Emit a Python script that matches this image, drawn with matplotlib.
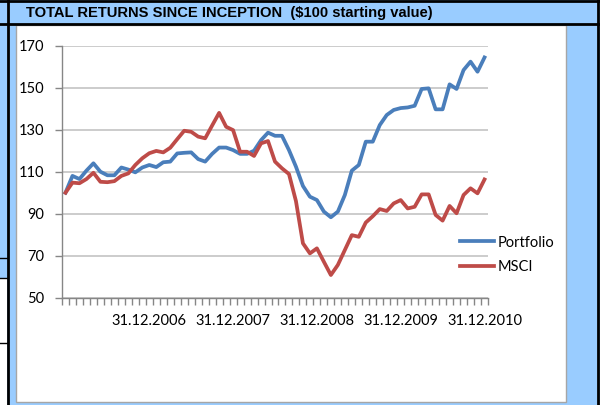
import matplotlib.pyplot as plt
from matplotlib.patches import Rectangle
from matplotlib.lines import Line2D
import numpy as np

# monthly values, 31.12.2005 .. 31.12.2010 (61 points)
portfolio = [100, 108, 106.5, 110.5, 114, 110, 108.3, 108.3, 112, 111,
             109.7, 112, 113.2, 112.2, 114.5, 114.8, 118.7, 119, 119.2, 116,
             114.8, 118.5, 121.5, 121.5, 120.3, 118.5, 118.5, 120, 125, 128.6,
             127.1, 127.1, 120.3, 112.4, 103.2, 98.1, 96.5, 91, 88.3, 91,
             98.9, 110.5, 113.2, 124.3, 124.3, 132.2, 137, 139.4, 140.3, 140.6,
             141.4, 149.4, 149.7, 139.7, 139.7, 151.6, 149.4, 158.4, 162.4, 157.6,
             164.4]
msci = [100, 104.8, 104.5, 106.5, 109.5, 105.2, 105, 105.5, 108, 109.2,
        113.2, 116.4, 118.8, 119.9, 119.2, 121.4, 125.5, 129.5, 129, 126.7,
        125.9, 132, 138, 131.4, 129.8, 119.5, 119.5, 117.5, 123.5, 124.6,
        114.8, 111.6, 108.9, 96, 75.9, 71.1, 73.5, 67.1, 60.8, 65.6,
        72.7, 79.8, 79, 85.8, 88.8, 92.2, 91.3, 94.9, 96.5, 92.5,
        93.3, 99.2, 99.2, 89.4, 86.7, 93.7, 90.2, 98.9, 102.1, 99.7,
        106.3]
label_idx = [12, 24, 36, 48, 60]
label_txt = ['31.12.2006', '31.12.2007', '31.12.2008', '31.12.2009', '31.12.2010']
yticks = [50, 70, 90, 110, 130, 150, 170]

W, H = 600, 405
LIGHT = '#99CCFF'
AXC = '#868686'
fig = plt.figure(figsize=(6, 4.05), dpi=100, facecolor=LIGHT)


def box(x0, y0, x1, y1, **kw):
    fig.add_artist(Rectangle((x0 / W, 1 - y1 / H), (x1 - x0) / W, (y1 - y0) / H,
                             transform=fig.transFigure, zorder=-2, **kw))


def seg(x0, y0, x1, y1, **kw):
    fig.add_artist(Line2D([x0 / W, x1 / W], [1 - y0 / H, 1 - y1 / H],
                          transform=fig.transFigure, zorder=-1, **kw))


# spreadsheet background bits
box(0, 278, 7, 405, fc='white', ec='none')
box(16, 25, 566, 402, fc='white', ec='#A6A6A6', lw=1)
seg(0, 1, 600, 1, color='black', lw=2)
seg(0, 23.5, 600, 23.5, color='black', lw=2)
seg(7.5, 0, 7.5, 405, color='black', lw=2)
seg(598, 0, 598, 405, color='black', lw=2)
for yy in (258, 278, 343):
    seg(0, yy, 7, yy, color='black', lw=1)

fig.text(26 / W, 1 - 13 / H, 'TOTAL RETURNS SINCE INCEPTION  ($100 starting value)',
         family='Liberation Sans', weight='bold', fontsize=10.6, va='center', ha='left')

plt.rcParams['font.family'] = 'Lato'

ax = fig.add_axes([62 / W, 1 - 297.7 / H, (488 - 62) / W, (297.7 - 45.7) / H])
ax.set_facecolor('white')
x = np.arange(len(portfolio))
ax.plot(x, portfolio, color='#4A7EBB', lw=2.7, label='Portfolio', solid_joinstyle='round')
ax.plot(x, msci, color='#BE4B48', lw=2.7, label='MSCI', solid_joinstyle='round')

ax.set_xlim(-0.5, len(portfolio) - 0.5)
ax.set_ylim(50, 170)
ax.set_yticks(yticks)
ax.yaxis.grid(True, color='#BEBEBE', lw=1.1)
ax.set_axisbelow(True)
for s in ('top', 'right'):
    ax.spines[s].set_visible(False)
for s in ('left', 'bottom'):
    ax.spines[s].set_color(AXC)
    ax.spines[s].set_linewidth(1)

ax.set_xticks(np.arange(-0.5, len(portfolio), 1))
ax.set_xticklabels([])
ax.set_xticks(label_idx, minor=True)
ax.set_xticklabels(label_txt, minor=True)
ax.tick_params(axis='x', which='major', length=5, color=AXC, width=1)
ax.tick_params(axis='x', which='minor', length=0, labelsize=10.5, pad=12)
ax.tick_params(axis='y', length=5, color=AXC, width=1, labelsize=10.5, pad=8)

ax.legend(loc='center left', bbox_to_anchor=(460 / W, 1 - 255 / H),
          bbox_transform=fig.transFigure, frameon=False, fontsize=10.5,
          handlelength=2.3, handletextpad=0.3, borderpad=0, borderaxespad=0,
          labelspacing=0.75)

fig.savefig('out.png', dpi=100, facecolor=LIGHT)
